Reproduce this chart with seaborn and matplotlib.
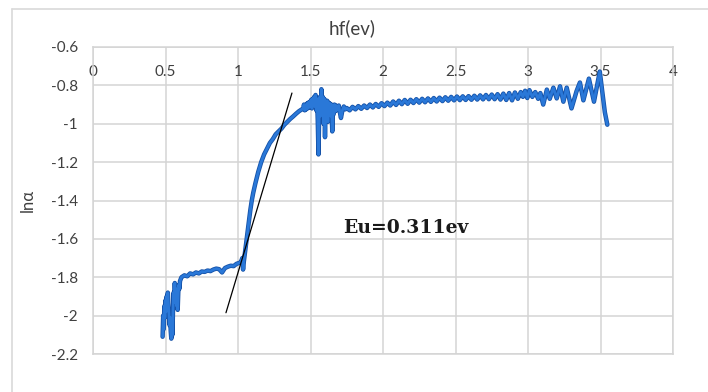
import numpy as np
import pandas as pd
import matplotlib
matplotlib.use("Agg")
import matplotlib.pyplot as plt
import matplotlib.patheffects as pe
from matplotlib.lines import Line2D
import seaborn as sns

# ---------------- data ----------------
hf = [
    # noisy start
    0.480, 0.484, 0.488, 0.492, 0.496, 0.500, 0.504, 0.508, 0.512, 0.516,
    0.520, 0.524, 0.528, 0.532, 0.536, 0.540, 0.544, 0.548, 0.552, 0.556,
    0.560, 0.564, 0.568, 0.572, 0.576, 0.580, 0.584, 0.588, 0.592, 0.596, 0.600,
    # plateau
    0.61, 0.63, 0.65, 0.67, 0.69, 0.71, 0.73, 0.75, 0.77, 0.79, 0.81, 0.83,
    0.85, 0.87, 0.89, 0.91, 0.93, 0.95, 0.97, 0.99, 1.01, 1.02, 1.03, 1.035, 1.04,
    # rise
    1.045, 1.055, 1.065, 1.075, 1.085, 1.095, 1.105, 1.12, 1.14, 1.16, 1.18,
    1.20, 1.22, 1.24, 1.26, 1.28, 1.30, 1.32, 1.34, 1.36, 1.38, 1.40, 1.42, 1.44,
    # noisy knee
    1.45, 1.455, 1.46, 1.465, 1.47, 1.475, 1.48, 1.485, 1.49, 1.495, 1.50,
    1.505, 1.51, 1.515, 1.52, 1.525, 1.53, 1.535, 1.54, 1.545, 1.55, 1.555,
    1.56, 1.565, 1.57, 1.575, 1.58, 1.585, 1.59, 1.595, 1.60, 1.605, 1.61,
    1.615, 1.62, 1.625, 1.63, 1.635, 1.64, 1.645, 1.65, 1.655, 1.66, 1.665,
    1.67, 1.675, 1.68, 1.685, 1.69, 1.695, 1.70, 1.71, 1.72, 1.73, 1.74,
    # slow tail
    1.75, 1.77, 1.79, 1.81, 1.83, 1.85, 1.87, 1.89, 1.91, 1.93, 1.95, 1.97,
    1.99, 2.01, 2.03, 2.05, 2.07, 2.09, 2.11, 2.13, 2.15, 2.17, 2.19, 2.21,
    2.23, 2.25, 2.27, 2.29, 2.31, 2.33, 2.35, 2.37, 2.39, 2.41, 2.43, 2.45,
    2.47, 2.49, 2.51, 2.53, 2.55, 2.57, 2.59, 2.61, 2.63, 2.65, 2.67, 2.69,
    2.71, 2.73, 2.75, 2.77, 2.79, 2.81, 2.83, 2.85, 2.87, 2.89, 2.91, 2.93,
    # oscillating end
    2.95, 2.965, 2.98, 2.995, 3.01, 3.03, 3.05, 3.07, 3.085, 3.105, 3.13,
    3.15, 3.175, 3.198, 3.221, 3.244, 3.267, 3.30, 3.335, 3.358, 3.382,
    3.42, 3.455, 3.495, 3.515, 3.53, 3.547,
]
ln_alpha = [
    -2.11, -2.00, -2.07, -1.95, -2.01, -1.92, -1.98, -1.90, -1.96, -1.88,
    -1.94, -1.99, -2.05, -2.01, -2.08, -2.12, -2.03, -2.10, -1.96, -1.88,
    -1.93, -1.83, -1.90, -1.86, -1.95, -1.89, -1.97, -1.88, -1.84, -1.86, -1.82,
    -1.80, -1.79, -1.795, -1.78, -1.785, -1.775, -1.78, -1.77, -1.772, -1.765, -1.768, -1.76,
    -1.755, -1.758, -1.775, -1.752, -1.745, -1.74, -1.742, -1.73, -1.725, -1.72, -1.70, -1.76, -1.72,
    -1.69, -1.63, -1.57, -1.51, -1.45, -1.40, -1.36, -1.31, -1.25, -1.20, -1.16,
    -1.13, -1.10, -1.08, -1.055, -1.04, -1.025, -1.005, -0.99, -0.975, -0.962, -0.948, -0.935, -0.925,
    -0.92, -0.90, -0.93, -0.905, -0.925, -0.895, -0.92, -0.89, -0.915, -0.885, -0.91,
    -0.875, -0.92, -0.87, -0.905, -0.86, -0.91, -0.85, -0.93, -0.87, -0.98, -1.16,
    -0.95, -0.86, -0.96, -0.82, -0.92, -0.86, -1.00, -0.87, -1.07, -0.89, -0.95,
    -0.88, -0.99, -0.89, -0.94, -0.895, -0.96, -0.90, -1.04, -0.91, -0.95, -0.90,
    -0.935, -0.905, -0.93, -0.91, -0.925, -0.905, -0.93, -0.97, -0.93, -0.91, -0.925,
    -0.918, -0.930, -0.912, -0.925, -0.908, -0.922, -0.905, -0.918, -0.900, -0.915, -0.897, -0.912,
    -0.893, -0.908, -0.890, -0.905, -0.884, -0.902, -0.880, -0.898, -0.876, -0.896, -0.875, -0.892,
    -0.872, -0.890, -0.870, -0.888, -0.868, -0.886, -0.866, -0.884, -0.864, -0.882, -0.862, -0.880,
    -0.860, -0.878, -0.858, -0.877, -0.857, -0.876, -0.856, -0.875, -0.854, -0.874, -0.852, -0.873,
    -0.850, -0.872, -0.848, -0.872, -0.846, -0.874, -0.843, -0.876, -0.840, -0.878, -0.837, -0.870,
    -0.835, -0.860, -0.828, -0.866, -0.825, -0.860, -0.835, -0.870, -0.840, -0.900, -0.822,
    -0.870, -0.812, -0.868, -0.805, -0.885, -0.812, -0.920, -0.830, -0.785, -0.878,
    -0.765, -0.885, -0.728, -0.850, -0.940, -1.005,
]

tangent_x = [0.917, 1.372]
tangent_y = [-1.985, -0.840]

x_ticks = [0, 0.5, 1, 1.5, 2, 2.5, 3, 3.5, 4]
x_tick_labels = ["0", "0.5", "1", "1.5", "2", "2.5", "3", "3.5", "4"]
y_ticks = [-2.2, -2, -1.8, -1.6, -1.4, -1.2, -1, -0.8, -0.6]
y_tick_labels = ["-2.2", "-2", "-1.8", "-1.6", "-1.4", "-1.2", "-1", "-0.8", "-0.6"]

title_text = "hf(ev)"
y_label = "lnα"
note_text = "Eu=0.311ev"

# ---------------- styling ----------------
sns.set_theme(style="white")
plt.rcParams["font.family"] = ["Lato", "DejaVu Sans"]

grid_col = "#d4d4d4"
txt_col = "#404040"

fig = plt.figure(figsize=(7.08, 3.92), dpi=100)
ax = fig.add_axes([93 / 708, 1 - 354 / 392, 580 / 708, 307 / 392])

df = pd.DataFrame({"hf": hf, "ln_alpha": ln_alpha})
sns.lineplot(data=df, x="hf", y="ln_alpha", ax=ax, sort=False, estimator=None,
             color="#2a78d8", linewidth=2.0,
             path_effects=[pe.Stroke(linewidth=3.2, foreground="#1552a8"), pe.Normal()])

tdf = pd.DataFrame({"x": tangent_x, "y": tangent_y})
sns.lineplot(data=tdf, x="x", y="y", ax=ax, sort=False, estimator=None,
             color="black", linewidth=0.9)

ax.set_xlim(0, 4)
ax.set_ylim(-2.2, -0.6)
ax.set_xticks(x_ticks)
ax.set_xticklabels(x_tick_labels)
ax.set_yticks(y_ticks)
ax.set_yticklabels(y_tick_labels)
ax.xaxis.tick_top()
ax.tick_params(axis="x", length=0, pad=-23, labelsize=11, colors=txt_col)
ax.tick_params(axis="y", length=0, pad=11, labelsize=11, colors=txt_col)
ax.set_xlabel("")
ax.set_ylabel("")
ax.grid(True, color=grid_col, linewidth=1.1)
ax.set_axisbelow(True)
for s in ax.spines.values():
    s.set_color(grid_col)
    s.set_linewidth(1.1)

ax.text(1.724, -1.543, note_text, ha="left", va="center", fontsize=13.5,
        fontweight="bold", family=["DejaVu Serif"], color="#1a1a1a")

fig.text(352 / 708, 1 - 28 / 392, title_text, ha="center", va="center",
         fontsize=13.5, color=txt_col)
fig.text(28 / 708, 1 - 200 / 392, y_label, ha="center", va="center",
         rotation=90, fontsize=12, color=txt_col)

# chart-area border (top and left edges visible)
fig.add_artist(Line2D([12 / 708, 1.0], [1 - 9 / 392, 1 - 9 / 392],
                      transform=fig.transFigure, color="#d9d9d9", linewidth=1.2))
fig.add_artist(Line2D([12 / 708, 12 / 708], [0.0, 1 - 9 / 392],
                      transform=fig.transFigure, color="#d9d9d9", linewidth=1.2))

fig.savefig("out.png", dpi=100)
